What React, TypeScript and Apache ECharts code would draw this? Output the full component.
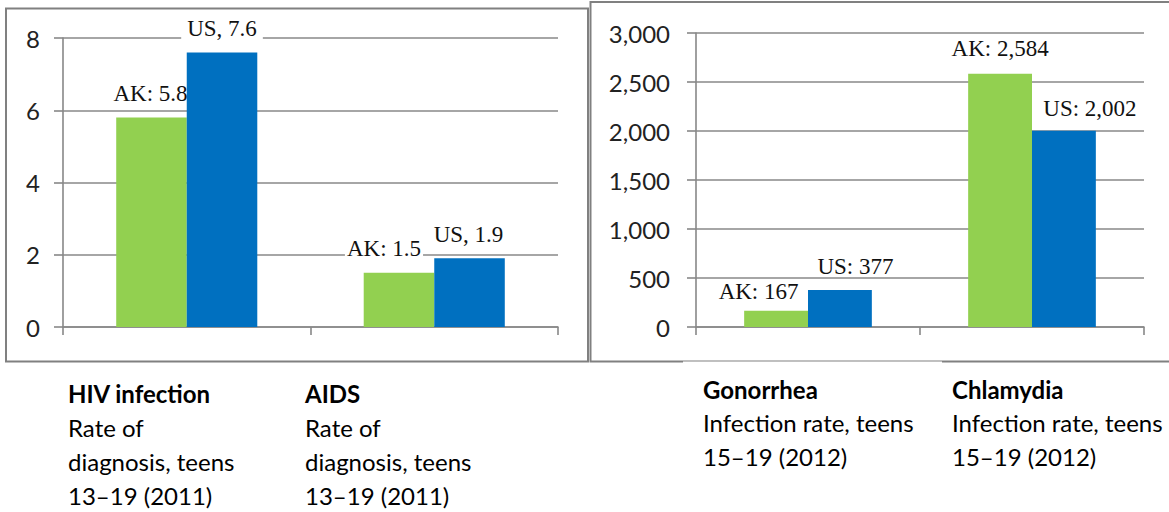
import React, { useEffect, useRef } from "react";
import * as echarts from "echarts";

// ---- data ----
const leftCategories = ["HIV infection", "AIDS"];
const leftAK = [5.8, 1.5];
const leftUS = [7.6, 1.9];
const rightCategories = ["Gonorrhea", "Chlamydia"];
const rightAK = [167, 2584];
const rightUS = [377, 2002];
const leftAxis = { min: 0, max: 8, interval: 2 };
const rightAxis = { min: 0, max: 3000, interval: 500 };
const captionTitles = ["HIV infection", "AIDS", "Gonorrhea", "Chlamydia"];
const captionLines = [
  ["Rate of", "diagnosis, teens", "13–19 (2011)"],
  ["Rate of", "diagnosis, teens", "13–19 (2011)"],
  ["Infection rate, teens", "15–19 (2012)"],
  ["Infection rate, teens", "15–19 (2012)"],
];

// ---- layout / style ----
const GREEN = "#92D050";
const BLUE = "#0070C0";
const GRID_COLOR = "#888888";
const FRAME_COLOR = "#808080";
const SERIF = "'Liberation Serif', serif";
const SANS = "Lato, 'Noto Sans', sans-serif";
const captionX = [68, 305, 703, 952];
const captionY0 = [393, 393, 389, 389];
const captionStep = [34, 34, 33.5, 33.5];
const leftAKOffsets = [[-1, 0], [-15, -1]];
const leftUSOffsets = [[0, 0], [-1, 0]];
const rightAKOffsets = [[-17.5, 4], [0, -2]];
const rightUSOffsets = [[15.5, 0], [26, 1]];

const fmt = (v: number) => v.toLocaleString("en-US");

function labelBase(distance: number) {
  return {
    show: true,
    position: "top" as const,
    distance,
    fontFamily: SERIF,
    fontSize: 23,
    color: "#111",
  };
}

function yAxisCfg(gridIndex: number, ax: { min: number; max: number; interval: number }, margin: number) {
  return {
    type: "value" as const,
    gridIndex,
    min: ax.min,
    max: ax.max,
    interval: ax.interval,
    axisLine: { show: true, lineStyle: { color: GRID_COLOR, width: 1.6 } },
    axisTick: { show: true, length: 9, lineStyle: { color: GRID_COLOR, width: 1.6 } },
    splitLine: { show: true, lineStyle: { color: GRID_COLOR, width: 1.6 } },
    axisLabel: {
      margin,
      fontFamily: SANS,
      fontSize: 24,
      color: "#222",
      formatter: (v: number) => fmt(v),
    },
  };
}

function xAxisCfg(gridIndex: number, cats: string[]) {
  return {
    type: "category" as const,
    gridIndex,
    data: cats,
    axisLine: { show: true, lineStyle: { color: GRID_COLOR, width: 1.6 } },
    axisTick: { show: true, length: 8, lineStyle: { color: GRID_COLOR, width: 1.6 } },
    axisLabel: { show: false },
  };
}

export default function App() {
  const ref = useRef<HTMLDivElement>(null);
  useEffect(() => {
    if (!ref.current) return;
    const chart = echarts.init(ref.current, null, { renderer: "svg" });

    const graphics: any[] = [
      {
        type: "rect",
        shape: { x: 6, y: 8.5, width: 582, height: 353 },
        style: { fill: "none", stroke: FRAME_COLOR, lineWidth: 2 },
        z: 0,
      },
      {
        type: "rect",
        shape: { x: 590.5, y: 2, width: 620, height: 359.5 },
        style: { fill: "none", stroke: FRAME_COLOR, lineWidth: 2 },
        z: 0,
      },
      {
        type: "rect",
        shape: { x: 683, y: 361.4, width: 259, height: 2 },
        style: { fill: "#fff" },
        z: 1,
      },
    ];
    captionTitles.forEach((t, i) => {
      graphics.push({
        type: "text",
        x: captionX[i],
        y: captionY0[i],
        style: {
          text: t,
          fontFamily: SANS,
          fontSize: 24,
          fontWeight: "bold",
          fill: "#000",
          verticalAlign: "middle",
          align: "left",
        },
      });
      captionLines[i].forEach((ln, j) => {
        graphics.push({
          type: "text",
          x: captionX[i],
          y: captionY0[i] + captionStep[i] * (j + 1),
          style: {
            text: ln,
            fontFamily: SANS,
            fontSize: 24,
            fill: "#000",
            verticalAlign: "middle",
            align: "left",
          },
        });
      });
    });

    const option: any = {
      animation: false,
      backgroundColor: "#fff",
      grid: [
        { left: 63, top: 38, width: 495, height: 289 },
        { left: 696, top: 33, width: 448, height: 294 },
      ],
      xAxis: [xAxisCfg(0, leftCategories), xAxisCfg(1, rightCategories)],
      yAxis: [yAxisCfg(0, leftAxis, 23), yAxisCfg(1, rightAxis, 26)],
      graphic: graphics,
      series: [
        {
          type: "bar",
          xAxisIndex: 0,
          yAxisIndex: 0,
          barGap: "0%",
          barCategoryGap: "43%",
          itemStyle: { color: GREEN },
          data: leftAK.map((v, i) => ({
            value: v,
            label: {
              offset: leftAKOffsets[i],
              backgroundColor: i === 0 ? "transparent" : "#fff",
              padding: [0, 2],
            },
          })),
          label: { ...labelBase(12), formatter: (p: any) => `AK: ${p.value}` },
        },
        {
          type: "bar",
          xAxisIndex: 0,
          yAxisIndex: 0,
          barGap: "0%",
          barCategoryGap: "43%",
          itemStyle: { color: BLUE },
          data: leftUS.map((v, i) => ({
            value: v,
            label: { offset: leftUSOffsets[i], backgroundColor: "#fff", padding: [0, 6] },
          })),
          label: { ...labelBase(12), formatter: (p: any) => `US, ${p.value}` },
        },
        {
          type: "bar",
          xAxisIndex: 1,
          yAxisIndex: 1,
          barGap: "0%",
          barCategoryGap: "43%",
          itemStyle: { color: GREEN },
          data: rightAK.map((v, i) => ({ value: v, label: { offset: rightAKOffsets[i] } })),
          label: { ...labelBase(12), formatter: (p: any) => `AK: ${fmt(p.value)}` },
        },
        {
          type: "bar",
          xAxisIndex: 1,
          yAxisIndex: 1,
          barGap: "0%",
          barCategoryGap: "43%",
          itemStyle: { color: BLUE },
          data: rightUS.map((v, i) => ({ value: v, label: { offset: rightUSOffsets[i] } })),
          label: { ...labelBase(12), formatter: (p: any) => `US: ${fmt(p.value)}` },
        },
      ],
    };
    chart.setOption(option);
    return () => chart.dispose();
  }, []);

  return (
    <div
      ref={ref}
      style={{ position: "absolute", left: 0, top: 0, width: 1169, height: 512 }}
    />
  );
}
